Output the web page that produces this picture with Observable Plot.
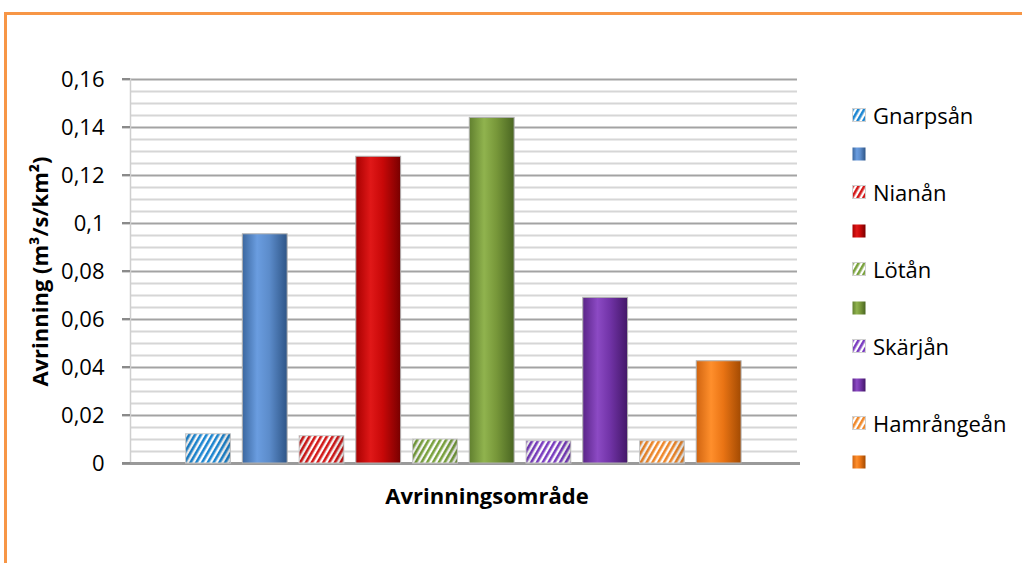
<!DOCTYPE html>
<html>
<head>
<meta charset="utf-8">
<script src="https://cdn.jsdelivr.net/npm/d3@7"></script>
<script src="https://cdn.jsdelivr.net/npm/@observablehq/plot@0.6"></script>
<style>
  html, body { margin: 0; padding: 0; background: #fff; }
  #wrap { position: relative; width: 1022px; height: 563px; overflow: hidden; background: #fff; font-family: "Open Sans", sans-serif; }
  #frame { position: absolute; left: 4px; top: 12px; width: 1100px; height: 700px; border: 3px solid #F79646; box-sizing: border-box; }
  #chart { position: absolute; left: 0; top: 0; }
  #legend { position: absolute; left: 852px; top: 96px; }
  .item { display: flex; align-items: center; height: 38.5px; font-size: 22px; color: #000; }
  .item svg { margin-right: 7px; }
</style>
</head>
<body>
<div id="wrap">
  <div id="frame"></div>
  <div id="chart"></div>
  <div id="legend"></div>
</div>
<script>
// ---- data ----
const rivers = ["Gnarpsån", "Nianån", "Lötån", "Skärjån", "Hamrångeån"];
const hatchedValues = [0.0122, 0.0114, 0.0100, 0.0093, 0.0093];
const solidValues = [0.0955, 0.1278, 0.144, 0.069, 0.0426];
const yTicks = [0, 0.02, 0.04, 0.06, 0.08, 0.1, 0.12, 0.14, 0.16];
const hatchColors = ["#1c86d2", "#d41818", "#7aa23e", "#7a3cc0", "#f0882a"];
const cylinderStops = [
  ["#3b679f", "#6a9de0", "#5c8ccb", "#2e5587"],
  ["#a80000", "#e01818", "#c80808", "#780000"],
  ["#61802f", "#90b34e", "#78983a", "#4a6622"],
  ["#5a2588", "#8c4ac4", "#7234a8", "#431768"],
  ["#d06410", "#ff8f2c", "#ea7414", "#a24a02"]
];
const xTitle = "Avrinningsområde";
const yTitle = "Avrinning (m³/s/km²)";

const series = rivers.flatMap((r, i) => [
  {key: r + "|h", label: r, value: hatchedValues[i], fill: `url(#hatch${i})`, kind: "h"},
  {key: r + "|s", label: "", value: solidValues[i], fill: `url(#cyl${i})`, kind: "s"}
]);

const minorTicks = d3.range(0, 0.1601, 0.005).filter(v => !yTicks.some(t => Math.abs(t - v) < 1e-9));

const step = 56.74, pIn = 0.21, firstCenter = 208;
const bw = step * (1 - pIn);
const xStart = firstCenter - bw / 2;
const xEnd = xStart + step * (series.length - pIn);
const fmt = d => String(+d.toFixed(2)).replace(".", ",");

const chart = Plot.plot({
  width: 1022,
  height: 563,
  marginLeft: 130,
  marginRight: 225,
  marginTop: 79,
  marginBottom: 100,
  style: {fontFamily: "Open Sans, sans-serif", background: "transparent"},
  x: {domain: series.map(d => d.key), range: [xStart, xEnd], paddingInner: pIn, paddingOuter: 0, round: false, axis: null},
  y: {domain: [0, 0.16], ticks: yTicks, tickFormat: fmt, tickSize: 0, tickPadding: 26, label: null},
  marks: [
    Plot.ruleY(minorTicks, {stroke: "#d6d6d6", strokeWidth: 2}),
    Plot.ruleY(yTicks.filter(t => t > 0), {stroke: "#a3a3a3", strokeWidth: 2, insetLeft: -8}),
    Plot.frame({anchor: "left", stroke: "#cfcfcf", strokeWidth: 1.5}),
    Plot.ruleY([0], {stroke: "#9a9a9a", strokeWidth: 3, insetLeft: -8, insetRight: -3}),
    Plot.barY(series, {x: "key", y: "value", fill: "fill", stroke: d => d.kind === "h" ? "#cfcfcf" : "#b0b0b0", strokeWidth: 1}),
    Plot.barY(series.filter(d => d.kind === "h"), {x: "key", y: "value", fill: "url(#shade)"}),
    Plot.axisY({ticks: yTicks, tickFormat: fmt, tickSize: 0, tickPadding: 26, fontSize: 22, fill: "#000", label: null}),
    Plot.text([yTitle], {frameAnchor: "left", dx: -90, rotate: -90, textAnchor: "middle", fontSize: 22, fontWeight: "bold", fill: "#000"}),
    Plot.text([xTitle], {frameAnchor: "bottom", dx: 23, dy: 40, textAnchor: "middle", fontSize: 22, fontWeight: "bold", fill: "#000"})
  ]
});

// patterns and gradients
const svg = d3.select(chart);
const defs = svg.insert("defs", ":first-child");
hatchColors.forEach((c, i) => {
  const p = defs.append("pattern").attr("id", `hatch${i}`).attr("patternUnits", "userSpaceOnUse")
    .attr("width", 5).attr("height", 5).attr("patternTransform", "rotate(30)");
  p.append("rect").attr("width", 5).attr("height", 5).attr("fill", "#ffffff");
  p.append("rect").attr("width", 2.6).attr("height", 5).attr("fill", c);
});
cylinderStops.forEach((s, i) => {
  const g = defs.append("linearGradient").attr("id", `cyl${i}`).attr("x1", "0%").attr("x2", "100%").attr("y1", "0%").attr("y2", "0%");
  [[0, s[0]], [0.33, s[1]], [0.6, s[2]], [1, s[3]]].forEach(([o, c]) => g.append("stop").attr("offset", o).attr("stop-color", c));
});
const sh = defs.append("linearGradient").attr("id", "shade").attr("x1", "0%").attr("x2", "100%").attr("y1", "0%").attr("y2", "0%");
[[0, "rgba(0,0,0,0.10)"], [0.35, "rgba(0,0,0,0)"], [0.7, "rgba(0,0,0,0.02)"], [1, "rgba(0,0,0,0.16)"]]
  .forEach(([o, c]) => sh.append("stop").attr("offset", o).attr("stop-color", c));

// tick marks on the left of the axis
const y = chart.scale("y");
const tickG = svg.append("g");
yTicks.forEach(t => {
  tickG.append("line").attr("x1", 122).attr("x2", 130).attr("y1", y.apply(t)).attr("y2", y.apply(t))
    .attr("stroke", "#8a8a8a").attr("stroke-width", 2);
});

document.getElementById("chart").appendChild(chart);

// legend
const legend = d3.select("#legend");
series.forEach(s => {
  const item = legend.append("div").attr("class", "item");
  const sw = item.append("svg").attr("width", 14).attr("height", 14);
  sw.append("rect").attr("x", 0.5).attr("y", 0.5).attr("width", 13).attr("height", 13)
    .attr("fill", s.fill).attr("stroke", s.kind === "h" ? "#d0d0d0" : "none");
  item.append("span").text(s.label);
});
</script>
</body>
</html>
